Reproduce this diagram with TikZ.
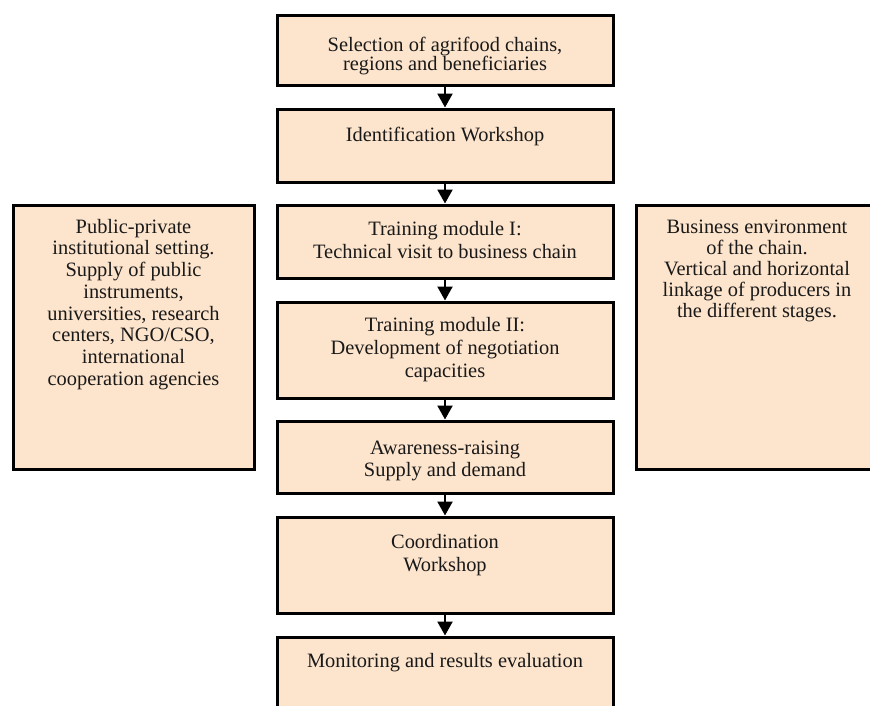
\documentclass[tikz,border=0pt]{standalone}
\usepackage{fontspec}
\setmainfont{Liberation Serif}
\usetikzlibrary{arrows.meta}
\definecolor{peach}{RGB}{253,228,204}
\definecolor{ink}{RGB}{25,25,25}
\newcommand{\firstline}{\rule{0pt}{15pt}}
\begin{document}
\begin{tikzpicture}[x=1pt,y=-1pt,
  stagebox/.style={draw=black, fill=peach, line width=3pt, rectangle, inner sep=0pt},
  stagetext/.style={anchor=north, align=center, inner sep=0pt, text=ink,
                    font=\fontsize{20.4}{23}\selectfont},
  flow/.style={line width=2.2pt, -{Triangle[width=15pt,length=14pt]}}]
\useasboundingbox (0,0) rectangle (870,705);
\clip (0,0) rectangle (870,705);

% central chain of stages
\node[stagebox, minimum width=336pt, minimum height=70pt] (b1) at (445,50) {};
\node[stagebox, minimum width=336pt, minimum height=73pt] (b2) at (445,145.5) {};
\node[stagebox, minimum width=336pt, minimum height=73pt] (b3) at (445,241.5) {};
\node[stagebox, minimum width=336pt, minimum height=96pt] (b4) at (445,350) {};
\node[stagebox, minimum width=336pt, minimum height=72pt] (b5) at (445,457) {};
\node[stagebox, minimum width=336pt, minimum height=96pt] (b6) at (445,565) {};
\node[stagebox, minimum width=336pt, minimum height=96pt] (b7) at (445,685) {};

% side context boxes
\node[stagebox, minimum width=241pt, minimum height=264pt] (left) at (133.5,337) {};
\node[stagebox, minimum width=242pt, minimum height=264pt] (right) at (757,337) {};

% texts
\node[stagetext, font=\fontsize{20.4}{18}\selectfont] (t1) at (445,36)
  {\firstline Selection of agrifood chains,\\ regions and beneficiaries};
\node[stagetext] (t2) at (445,126) {\firstline Identification Workshop};
\node[stagetext] (t3) at (445,220)
  {\firstline Training module I:\\ Technical visit to business chain};
\node[stagetext] (t4) at (445,316)
  {\firstline Training module II:\\ Development of negotiation\\ capacities};
\node[stagetext, font=\fontsize{20.4}{22}\selectfont] (t5) at (445,439)
  {\firstline Awareness-raising\\ Supply and demand};
\node[stagetext] (t6) at (445,533) {\firstline Coordination\\ Workshop};
\node[stagetext] (t7) at (445,652) {\firstline Monitoring and results evaluation};

\node[stagetext, font=\fontsize{20.4}{21.7}\selectfont] (tl) at (133.5,218)
  {\firstline Public-private\\ institutional setting.\\ Supply of public\\ instruments,\\
   universities, research\\ centers, NGO/CSO,\\ international\\ cooperation agencies};
\node[stagetext, font=\fontsize{20.4}{21}\selectfont] (tr) at (757,218)
  {\firstline Business environment\\ of the chain.\\ Vertical and horizontal\\
   linkage of producers in\\ the different stages.};

% connectors
\draw[flow] (b1.south) -- (b2.north);
\draw[flow] (b2.south) -- (b3.north);
\draw[flow] (b3.south) -- (b4.north);
\draw[flow] (b4.south) -- (b5.north);
\draw[flow] (b5.south) -- (b6.north);
\draw[flow] (b6.south) -- (b7.north);
\end{tikzpicture}
\end{document}
